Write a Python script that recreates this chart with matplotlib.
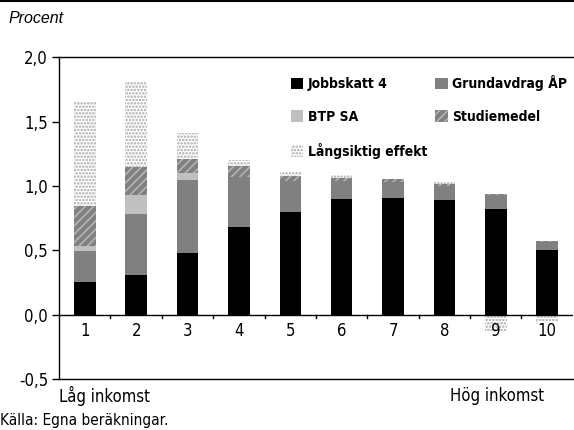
import numpy as np
import matplotlib
matplotlib.use('Agg')
import matplotlib.pyplot as plt
from matplotlib import font_manager
from matplotlib.patches import Patch
from matplotlib.lines import Line2D

# Data (percent)
deciles = ['1', '2', '3', '4', '5', '6', '7', '8', '9', '10']
jobbskatt = [0.25, 0.305, 0.475, 0.677, 0.793, 0.894, 0.902, 0.891, 0.822, 0.504]
grundavdrag = [0.24, 0.473, 0.572, 0.39, 0.243, 0.142, 0.125, 0.11, 0.106, 0.062]
btp_sa = [0.045, 0.152, 0.05, 0.004, 0.005, 0.0, 0.0, 0.0, 0.0, 0.0]
studiemedel = [0.305, 0.217, 0.115, 0.083, 0.035, 0.028, 0.03, 0.01, 0.01, 0.008]
langsiktig = [0.81, 0.66, 0.20, 0.046, 0.03, 0.02, 0.0, 0.02, -0.13, -0.06]

yticks = [-0.5, 0.0, 0.5, 1.0, 1.5, 2.0]
ytick_labels = ['-0,5', '0,0', '0,5', '1,0', '1,5', '2,0']

# Pick a condensed font if one is installed
names = {f.name for f in font_manager.fontManager.ttflist}
narrow = 'DejaVu Sans'
for cand in ['Liberation Sans Narrow', 'DejaVu Sans Condensed']:
    if cand in names:
        narrow = cand
        break
stretch = 'condensed' if narrow == 'DejaVu Sans' else 'normal'

plt.rcParams['font.family'] = [narrow, 'DejaVu Sans']
plt.rcParams['hatch.linewidth'] = 1.2

fig = plt.figure(figsize=(5.74, 4.30), dpi=100)
ax = fig.add_axes([0.103, 0.119, 0.895, 0.748])

x = np.arange(1, len(deciles) + 1)
w = 0.42
j = np.array(jobbskatt)
g = np.array(grundavdrag)
b = np.array(btp_sa)
s = np.array(studiemedel)
l = np.array(langsiktig)

ax.bar(x, j, w, color='black', zorder=2)
ax.bar(x, g, w, bottom=j, color='#808080', zorder=2)
ax.bar(x, b, w, bottom=j + g, color='#c0c0c0', zorder=2)
ax.bar(x, s, w, bottom=j + g + b, color='#808080', edgecolor='#b4b4b4',
       hatch='////', linewidth=0, zorder=2)
top = j + g + b + s
ax.bar(x, np.abs(l), w, bottom=np.where(l >= 0, top, l), color='white',
       edgecolor='#a8a8a8', hatch='.....', linewidth=0, zorder=2)

ax.set_xlim(0.5, 10.5)
ax.set_ylim(-0.5, 2.0)
ax.set_yticks(yticks)
ax.set_yticklabels(ytick_labels, fontsize=12, fontstretch=stretch)
ax.tick_params(axis='y', direction='out', length=5, width=1, pad=3)
ax.set_xticks([])

# zero line with ticks between the bars
ax.axhline(0, color='black', lw=1, zorder=3)
for xb in np.arange(1.5, 10.5, 1.0):
    ax.plot([xb, xb], [0, -0.025], color='black', lw=1, zorder=3)
for xi, lab in zip(x, deciles):
    ax.text(xi, -0.055, lab, ha='center', va='top', fontsize=12,
            fontstretch=stretch)

for sp in ['left', 'top', 'bottom']:
    ax.spines[sp].set_linewidth(1)
ax.spines['right'].set_visible(False)

# legend filled column-wise, so order gives row-wise reading
handles = [
    Patch(facecolor='black', label='Jobbskatt 4'),
    Patch(facecolor='#c0c0c0', label='BTP SA'),
    Patch(facecolor='white', edgecolor='#a8a8a8', hatch='.....', lw=0, label='Långsiktig effekt'),
    Patch(facecolor='#808080', label='Grundavdrag ÅP'),
    Patch(facecolor='#808080', edgecolor='#b4b4b4', hatch='////', lw=0, label='Studiemedel'),
]
leg = ax.legend(handles=handles, ncol=2, frameon=False, loc='upper left',
                bbox_to_anchor=(0.435, 0.97), labelspacing=1.35, columnspacing=0.6,
                handlelength=0.9, handleheight=0.9, handletextpad=0.3,
                borderaxespad=0.2,
                prop={'weight': 'bold', 'size': 10, 'stretch': stretch})

fig.text(0.014, 0.958, 'Procent', fontsize=11.5, style='italic',
         family=['Liberation Sans', 'DejaVu Sans'], va='center')
fig.text(0.103, 0.079, 'Låg inkomst', fontsize=12, fontstretch=stretch, va='center')
fig.text(0.948, 0.079, 'Hög inkomst', fontsize=12, fontstretch=stretch,
         va='center', ha='right')
fig.text(0.0, 0.022, 'Källa: Egna beräkningar.', fontsize=11, fontstretch=stretch,
         va='center')
fig.add_artist(Line2D([0, 1], [0.998, 0.998], color='black', lw=1.5,
                      transform=fig.transFigure))

fig.savefig('out.png', dpi=100)
